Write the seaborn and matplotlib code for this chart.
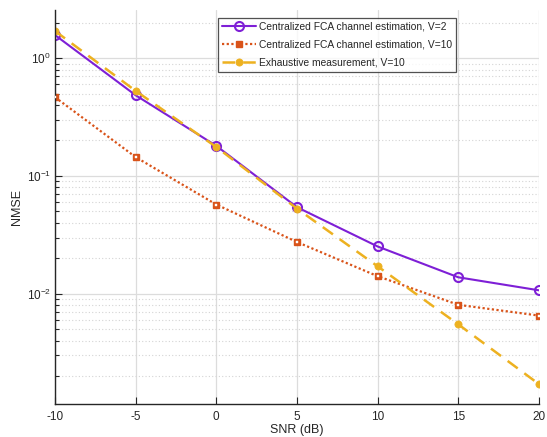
import numpy as np
import pandas as pd
import matplotlib
matplotlib.use("Agg")
import matplotlib.pyplot as plt
import seaborn as sns
from matplotlib.ticker import LogLocator, NullFormatter, FixedLocator, FuncFormatter

snr = [-10, -5, 0, 5, 10, 15, 20]
nmse_v2 = [1.57, 0.484, 0.180, 0.0543, 0.0252, 0.0138, 0.0107]
nmse_v10 = [0.466, 0.1445, 0.0572, 0.0275, 0.0141, 0.00806, 0.00653]
nmse_exh = [1.70, 0.527, 0.176, 0.0528, 0.0171, 0.0055, 0.00171]
labels = ["Centralized FCA channel estimation, V=2",
          "Centralized FCA channel estimation, V=10",
          "Exhaustive measurement, V=10"]
xticks = [-10, -5, 0, 5, 10, 15, 20]

sns.set_theme(style="white")
plt.rcParams['font.family'] = ['Liberation Sans', 'DejaVu Sans']
plt.rcParams['mathtext.fontset'] = 'custom'
plt.rcParams['mathtext.rm'] = 'Liberation Sans'
plt.rcParams['axes.unicode_minus'] = False

fig = plt.figure(figsize=(5.47, 4.37), dpi=100)
ax = fig.add_axes([0.1005, 0.0755, 0.8848, 0.9016])

styles = [
    dict(color="#7E1FD6", linestyle="-", marker="o", markersize=6.5,
         markerfacecolor="none", markeredgecolor="#7E1FD6",
         markeredgewidth=1.5, linewidth=1.5),
    dict(color="#D95319", linestyle=(0, (1, 1.1)), marker="s", markersize=4.8,
         markerfacecolor="#D95319", markeredgecolor="#D95319",
         markeredgewidth=1.0, linewidth=1.6),
    dict(color="#EDB120", linestyle=(0, (5, 3.3)), marker="o", markersize=5.2,
         markerfacecolor="#EDB120", markeredgecolor="#EDB120",
         markeredgewidth=0.5, linewidth=1.8),
]

for vals, lab, st in zip([nmse_v2, nmse_v10, nmse_exh], labels, styles):
    df = pd.DataFrame({"SNR": snr, "NMSE": vals})
    n_before = len(ax.lines)
    sns.lineplot(data=df, x="SNR", y="NMSE", ax=ax, label=lab,
                 color=st["color"], linewidth=st["linewidth"])
    ln = ax.lines[n_before]
    ln.set_linestyle(st["linestyle"])
    ln.set_marker(st["marker"])
    ln.set_markersize(st["markersize"])
    ln.set_markerfacecolor(st["markerfacecolor"])
    ln.set_markeredgecolor(st["markeredgecolor"])
    ln.set_markeredgewidth(st["markeredgewidth"])

# little white mark inside orange squares
ax.plot(snr, nmse_v10, linestyle="none", marker="s", markersize=1.6,
        markerfacecolor="white", markeredgecolor="white", markeredgewidth=0.3,
        zorder=5)

ax.set_yscale("log")
ax.set_xlim(-10, 20)
ax.set_ylim(1.16e-3, 2.56)
ax.xaxis.set_major_locator(FixedLocator(xticks))
ax.set_xticklabels([str(t) for t in xticks])
ax.yaxis.set_major_locator(LogLocator(base=10, numticks=10))
ax.yaxis.set_major_formatter(FuncFormatter(
    lambda v, p: "$10^{%d}$" % int(round(np.log10(v)))))
ax.yaxis.set_minor_locator(LogLocator(base=10, subs=np.arange(2, 10), numticks=20))
ax.yaxis.set_minor_formatter(NullFormatter())

ax.grid(True, which="major", color="#dcdcdc", linewidth=0.9, linestyle="-")
ax.grid(True, which="minor", axis="y", color="#d4d4d4", linewidth=0.8,
        linestyle=(0, (1, 2)))
ax.set_axisbelow(True)

for s in ["top", "right"]:
    ax.spines[s].set_visible(False)
for s in ["left", "bottom"]:
    ax.spines[s].set_color("#262626")
    ax.spines[s].set_linewidth(1.0)

ax.tick_params(axis="both", which="major", direction="in", length=5, width=0.8,
               labelsize=8.5, colors="#262626", left=True, bottom=True)
ax.tick_params(axis="y", which="minor", direction="in", length=3, width=0.8,
               left=True, colors="#262626")
ax.tick_params(axis="x", pad=5)
ax.tick_params(axis="y", pad=3)

ax.set_xlabel("SNR (dB)", fontsize=9, color="#262626")
ax.set_ylabel("NMSE", fontsize=9, color="#262626")
ax.xaxis.set_label_coords(0.5, -0.051)
ax.yaxis.set_label_coords(-0.066, 0.5)

leg = ax.legend(loc="upper left", bbox_to_anchor=(0.337, 0.98),
                fontsize=7.4, frameon=True, fancybox=False,
                edgecolor="#262626", handlelength=3.3,
                handletextpad=0.25, borderpad=0.4,
                labelspacing=0.75, borderaxespad=0)
leg.get_frame().set_linewidth(0.9)

fig.savefig("out.png", dpi=100)
